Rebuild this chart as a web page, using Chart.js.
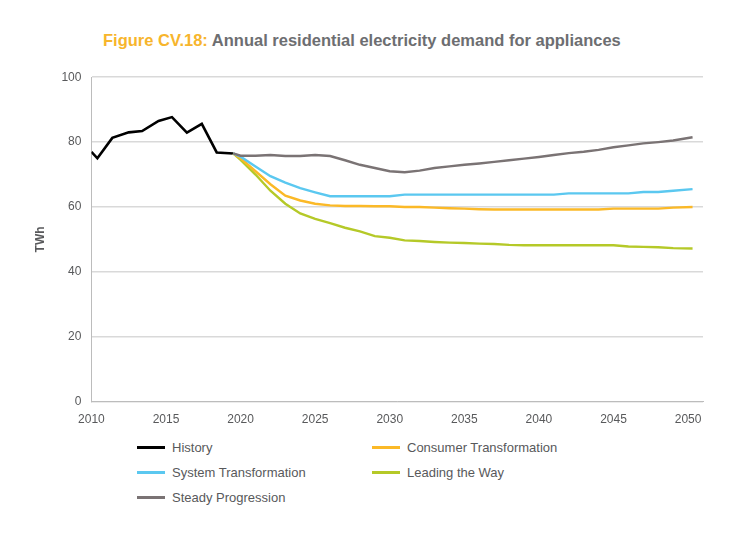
<!DOCTYPE html>
<html><head><meta charset="utf-8">
<script src="https://cdn.jsdelivr.net/npm/chart.js@4.4.0/dist/chart.umd.min.js"></script>
<style>
body{margin:0;background:#fff;font-family:"Liberation Sans",Arial,sans-serif;width:734px;height:549px;position:relative;overflow:hidden}
#title{position:absolute;left:103px;top:31px;font-size:16.5px;font-weight:bold;color:#6d6e71}
#title span{color:#f7b52c}
#wrap{position:absolute;left:0;top:60px;width:720px;height:370px}
#legend{position:absolute;left:137px;top:440px;font-size:13px;color:#58595b}
.item{position:absolute;white-space:nowrap;display:flex;align-items:center}
.item i{display:inline-block;width:28px;height:3px;margin-right:7px}
</style></head><body>
<div id="title"><span>Figure CV.18:</span> Annual residential electricity demand for appliances</div>
<div id="wrap"><canvas id="c"></canvas></div>
<div id="legend"></div>
<script>
// History (irregular years as drawn)
const histYears = [2010, 2010.4, 2011.4, 2012.5, 2013.4, 2014.5, 2015.4, 2016.4, 2017.4, 2018.4, 2019.5];
const histVals  = [77, 75, 81.3, 83, 83.4, 86.5, 87.7, 82.9, 85.6, 76.8, 76.5];

const scenYears = [2019.5, 2020, 2021, 2022, 2023, 2024, 2025, 2026, 2027, 2028, 2029, 2030, 2031, 2032, 2033, 2034, 2035,
  2036, 2037, 2038, 2039, 2040, 2041, 2042, 2043, 2044, 2045, 2046, 2047, 2048, 2049, 2050.3];
const steady   = [76.5, 75.8, 75.8, 76, 75.7, 75.7, 76, 75.7, 74.4, 73, 72, 71, 70.7, 71.2, 72, 72.5, 73,
  73.4, 73.9, 74.4, 74.9, 75.4, 76, 76.6, 77, 77.6, 78.4, 79, 79.6, 80, 80.5, 81.5];
const system   = [76.5, 75.5, 72.5, 69.5, 67.5, 65.8, 64.5, 63.3, 63.3, 63.3, 63.3, 63.3, 63.8, 63.8, 63.8, 63.8, 63.8,
  63.8, 63.8, 63.8, 63.8, 63.8, 63.8, 64.2, 64.2, 64.2, 64.2, 64.2, 64.6, 64.6, 65, 65.5];
const consumer = [76.5, 75, 71, 67, 63.5, 62, 61, 60.5, 60.3, 60.3, 60.2, 60.2, 60, 60, 59.8, 59.6, 59.5,
  59.3, 59.2, 59.2, 59.2, 59.2, 59.2, 59.2, 59.2, 59.2, 59.5, 59.5, 59.5, 59.5, 59.8, 60];
const leading  = [76.5, 74.5, 70, 65, 61, 58, 56.3, 55, 53.6, 52.5, 51, 50.5, 49.7, 49.5, 49.2, 49, 48.9,
  48.7, 48.6, 48.3, 48.2, 48.2, 48.2, 48.2, 48.2, 48.2, 48.2, 47.8, 47.7, 47.6, 47.3, 47.2];
const xTicks = [2010, 2015, 2020, 2025, 2030, 2035, 2040, 2045, 2050];

const pts = (xs, ys) => xs.map((x, i) => ({x, y: ys[i]}));
const series = [
  {label: 'History', data: pts(histYears, histVals), color: '#000000', w: 2.6},
  {label: 'Consumer Transformation', data: pts(scenYears, consumer), color: '#fbb927', w: 2.4},
  {label: 'System Transformation', data: pts(scenYears, system), color: '#5bc8f0', w: 2.4},
  {label: 'Leading the Way', data: pts(scenYears, leading), color: '#b5c928', w: 2.4},
  {label: 'Steady Progression', data: pts(scenYears, steady), color: '#7a7374', w: 2.4},
];

// draw order: scenarios under history
const order = [4, 2, 1, 3, 0];
new Chart(document.getElementById('c'), {
  type: 'line',
  data: {datasets: order.map(i => ({
    label: series[i].label, data: series[i].data, borderColor: series[i].color,
    borderWidth: series[i].w, pointRadius: 0, tension: 0, fill: false
  }))},
  options: {
    responsive: true, maintainAspectRatio: false, animation: false,
    layout: {padding: {left: 29, right: 17, top: 9, bottom: 0}},
    plugins: {legend: {display: false}, tooltip: {enabled: false}},
    scales: {
      x: {type: 'linear', min: 2010, max: 2051,
        afterBuildTicks: ax => { ax.ticks = xTicks.map(v => ({value: v})); },
        ticks: {color: '#58595b', font: {size: 12}, maxRotation: 0, callback: v => String(v)},
        grid: {display: false}, border: {color: '#bcbcbc'}},
      y: {min: 0, max: 100,
        ticks: {stepSize: 20, color: '#58595b', font: {size: 12}, padding: 10},
        title: {display: true, text: 'TWh', color: '#58595b', font: {size: 12, weight: 'bold'}},
        grid: {color: '#d9d9d9', lineWidth: 1.5, drawTicks: false}, border: {color: '#bcbcbc'}}
    }
  }
});

const lg = document.getElementById('legend');
const pos = [[0,0],[235,0],[0,25],[235,25],[0,50]];
series.forEach((s, i) => {
  const d = document.createElement('div');
  d.className = 'item';
  d.style.left = pos[i][0] + 'px'; d.style.top = pos[i][1] + 'px';
  d.innerHTML = '<i style="background:' + s.color + '"></i>' + s.label;
  lg.appendChild(d);
});
</script>
</body></html>
